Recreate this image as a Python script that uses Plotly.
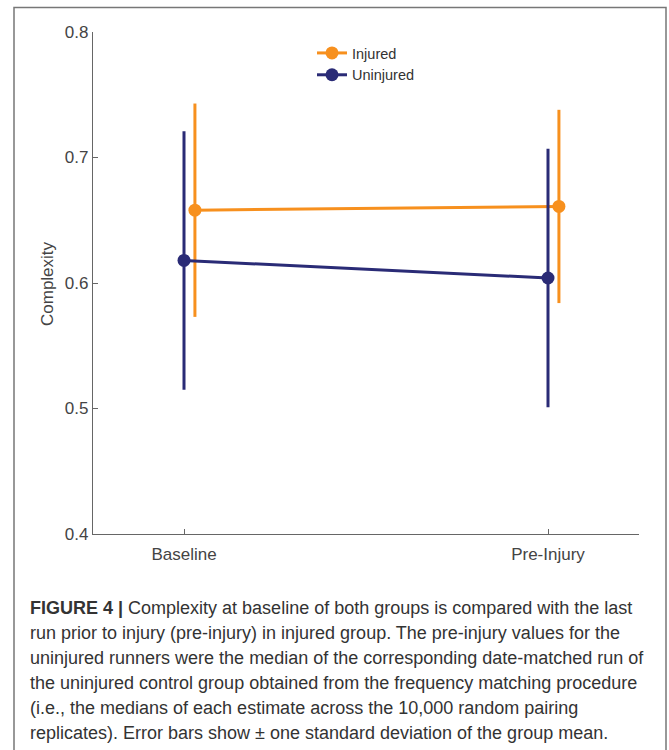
import plotly.graph_objects as go

# ---- data ----------------------------------------------------------------
timepoints = ["Baseline", "Pre-Injury"]
injured_mean = [0.658, 0.661]
injured_sd = [0.085, 0.077]
uninjured_mean = [0.618, 0.604]
uninjured_sd = [0.103, 0.103]
y_ticks = [0.4, 0.5, 0.6, 0.7, 0.8]

caption_lines = [
    "<b>FIGURE 4 |</b> Complexity at baseline of both groups is compared with the last",
    "run prior to injury (pre-injury) in injured group. The pre-injury values for the",
    "uninjured runners were the median of the corresponding date-matched run of",
    "the uninjured control group obtained from the frequency matching procedure",
    "(i.e., the medians of each estimate across the 10,000 random pairing",
    "replicates). Error bars show \u00b1 one standard deviation of the group mean.",
]

# ---- layout geometry (pixels) ----------------------------------------------
W, H = 669, 750
L, R, T, B = 93, 30, 32, 216
PW, PH = W - L - R, H - T - B


def px_x(x):
    return (x - L) / PW


def px_y(y):
    return (H - B - y) / PH


ORANGE = "#F7901E"
NAVY = "#2A2B76"
AXIS = "#666666"
TEXT = "#444444"
SANS = "Liberation Sans, Arial, sans-serif"

pos = [i + 1 for i in range(len(timepoints))]
shift = 0.03  # injured group drawn slightly to the right

fig = go.Figure()
fig.add_trace(go.Scatter(
    x=[p + shift for p in pos], y=injured_mean, name="Injured",
    mode="lines+markers",
    line=dict(color=ORANGE, width=3),
    marker=dict(color=ORANGE, size=13),
    error_y=dict(type="data", array=injured_sd, color=ORANGE, thickness=3, width=0),
))
fig.add_trace(go.Scatter(
    x=pos, y=uninjured_mean, name="Uninjured",
    mode="lines+markers",
    line=dict(color=NAVY, width=3),
    marker=dict(color=NAVY, size=13),
    error_y=dict(type="data", array=uninjured_sd, color=NAVY, thickness=3, width=0),
))

fig.update_layout(
    width=W, height=H,
    margin=dict(l=L, r=R, t=T, b=B, autoexpand=False),
    paper_bgcolor="white", plot_bgcolor="white",
    font=dict(family=SANS, size=17, color=TEXT),
    showlegend=True,
    legend=dict(
        x=px_x(312), y=px_y(37), xanchor="left", yanchor="top",
        bgcolor="rgba(0,0,0,0)", font=dict(family=SANS, size=14.5, color="#333333"),
        tracegroupgap=0, itemwidth=30,
    ),
    xaxis=dict(
        range=[0.75, 2.25], tickvals=pos, ticktext=timepoints,
        showline=True, linecolor=AXIS, linewidth=1.3,
        ticks="inside", ticklen=5, tickcolor=AXIS, tickwidth=1,
        showgrid=False, zeroline=False, fixedrange=True,
        tickfont=dict(family=SANS, size=17, color=TEXT),
        ticklabelstandoff=4,
    ),
    yaxis=dict(
        range=[0.4, 0.8], tickvals=y_ticks, tickformat=".1f",
        showline=True, linecolor=AXIS, linewidth=1.3,
        ticks="inside", ticklen=5, tickcolor=AXIS, tickwidth=1,
        showgrid=False, zeroline=False, fixedrange=True,
        tickfont=dict(family=SANS, size=17, color=TEXT),
    ),
)

# axis title
fig.add_annotation(
    text="Complexity", textangle=-90, showarrow=False,
    xref="paper", yref="paper", x=px_x(47), y=px_y(284),
    xanchor="center", yanchor="middle",
    font=dict(family=SANS, size=17, color=TEXT),
)

# caption
for i, line in enumerate(caption_lines):
    fig.add_annotation(
        text=line, showarrow=False, align="left",
        xref="paper", yref="paper", x=px_x(28), y=px_y(608 + 25 * i),
        xanchor="left", yanchor="middle",
        font=dict(family=SANS, size=18, color="#333333"),
    )

# figure frame
fig.add_shape(
    type="rect", xref="paper", yref="paper",
    x0=px_x(14), x1=px_x(666), y0=px_y(760), y1=px_y(7.5),
    line=dict(color="#777777", width=1.5), fillcolor="rgba(0,0,0,0)", layer="below",
)

fig.write_html("out.html")
